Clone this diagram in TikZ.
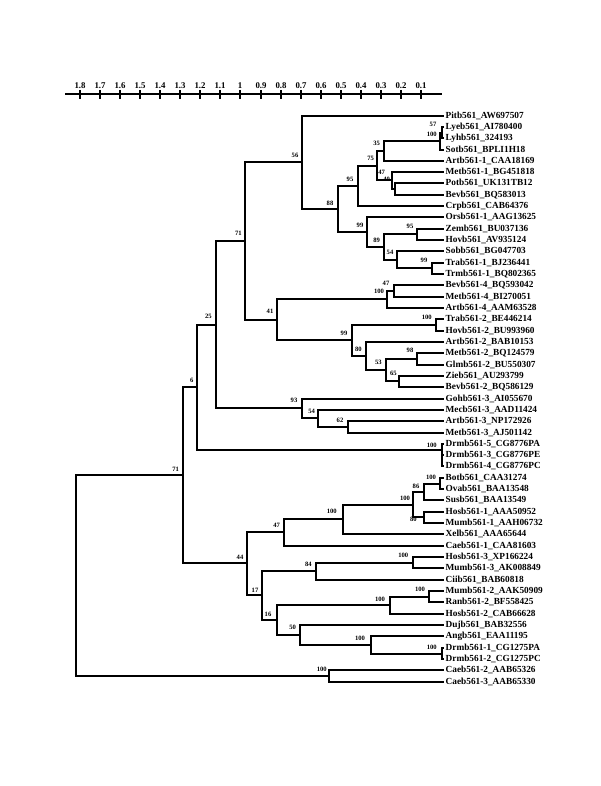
\documentclass[tikz,border=0pt]{standalone}
\usepackage{fontspec}
\setmainfont{Liberation Serif}
\begin{document}
\begin{tikzpicture}[x=1pt,y=-1pt,
  tree/.style={line width=1.8pt, line cap=rect},
  leaf/.style={anchor=west, inner sep=2pt, font=\fontsize{9.3}{10}\selectfont\bfseries},
  bs/.style={inner sep=0pt, font=\fontsize{6.6}{7}\selectfont\bfseries},
  sc/.style={inner sep=0pt, font=\fontsize{8.8}{9}\selectfont\bfseries}]
\useasboundingbox (0,0) rectangle (600,786);
% scale bar
\draw[line width=1.9pt] (65,94) -- (442,94);
\foreach \k/\t in {0/1.8,1/1.7,2/1.6,3/1.5,4/1.4,5/1.3,6/1.2,7/1.1,8/1,9/0.9,10/0.8,11/0.7,12/0.6,13/0.5,14/0.4,15/0.3,16/0.2,17/0.1}{
  \draw[line width=1.6pt] ({round(80+20.06*\k)},90) -- ({round(80+20.06*\k)},99);
  \node[sc] at ({round(80+20.06*\k)},85.5) {\t};
}
% leaves
\def\lx{443.5}
\node[leaf] (l1) at (\lx,116) {Pitb561\_AW697507};
\node[leaf] (l2) at (\lx,127) {Lyeb561\_AI780400};
\node[leaf] (l3) at (\lx,138) {Lyhb561\_324193};
\node[leaf] (l4) at (\lx,150) {Sotb561\_BPLI1H18};
\node[leaf] (l5) at (\lx,161) {Artb561-1\_CAA18169};
\node[leaf] (l6) at (\lx,172) {Metb561-1\_BG451818};
\node[leaf] (l7) at (\lx,183) {Potb561\_UK131TB12};
\node[leaf] (l8) at (\lx,195) {Bevb561\_BQ583013};
\node[leaf] (l9) at (\lx,206) {Crpb561\_CAB64376};
\node[leaf] (l10) at (\lx,217) {Orsb561-1\_AAG13625};
\node[leaf] (l11) at (\lx,229) {Zemb561\_BU037136};
\node[leaf] (l12) at (\lx,240) {Hovb561\_AV935124};
\node[leaf] (l13) at (\lx,251) {Sobb561\_BG047703};
\node[leaf] (l14) at (\lx,263) {Trab561-1\_BJ236441};
\node[leaf] (l15) at (\lx,274) {Trmb561-1\_BQ802365};
\node[leaf] (l16) at (\lx,285) {Bevb561-4\_BQ593042};
\node[leaf] (l17) at (\lx,297) {Metb561-4\_BI270051};
\node[leaf] (l18) at (\lx,308) {Artb561-4\_AAM63528};
\node[leaf] (l19) at (\lx,319) {Trab561-2\_BE446214};
\node[leaf] (l20) at (\lx,331) {Hovb561-2\_BU993960};
\node[leaf] (l21) at (\lx,342) {Artb561-2\_BAB10153};
\node[leaf] (l22) at (\lx,353) {Metb561-2\_BQ124579};
\node[leaf] (l23) at (\lx,365) {Glmb561-2\_BU550307};
\node[leaf] (l24) at (\lx,376) {Zieb561\_AU293799};
\node[leaf] (l25) at (\lx,387) {Bevb561-2\_BQ586129};
\node[leaf] (l26) at (\lx,399) {Gohb561-3\_AI055670};
\node[leaf] (l27) at (\lx,410) {Mecb561-3\_AAD11424};
\node[leaf] (l28) at (\lx,421) {Artb561-3\_NP172926};
\node[leaf] (l29) at (\lx,433) {Metb561-3\_AJ501142};
\node[leaf] (l30) at (\lx,444) {Drmb561-5\_CG8776PA};
\node[leaf] (l31) at (\lx,455) {Drmb561-3\_CG8776PE};
\node[leaf] (l32) at (\lx,466) {Drmb561-4\_CG8776PC};
\node[leaf] (l33) at (\lx,478) {Botb561\_CAA31274};
\node[leaf] (l34) at (\lx,489) {Ovab561\_BAA13548};
\node[leaf] (l35) at (\lx,500) {Susb561\_BAA13549};
\node[leaf] (l36) at (\lx,512) {Hosb561-1\_AAA50952};
\node[leaf] (l37) at (\lx,523) {Mumb561-1\_AAH06732};
\node[leaf] (l38) at (\lx,534) {Xelb561\_AAA65644};
\node[leaf] (l39) at (\lx,546) {Caeb561-1\_CAA81603};
\node[leaf] (l40) at (\lx,557) {Hosb561-3\_XP166224};
\node[leaf] (l41) at (\lx,568) {Mumb561-3\_AK008849};
\node[leaf] (l42) at (\lx,580) {Ciib561\_BAB60818};
\node[leaf] (l43) at (\lx,591) {Mumb561-2\_AAK50909};
\node[leaf] (l44) at (\lx,602) {Ranb561-2\_BF558425};
\node[leaf] (l45) at (\lx,614) {Hosb561-2\_CAB66628};
\node[leaf] (l46) at (\lx,625) {Dujb561\_BAB32556};
\node[leaf] (l47) at (\lx,636) {Angb561\_EAA11195};
\node[leaf] (l48) at (\lx,648) {Drmb561-1\_CG1275PA};
\node[leaf] (l49) at (\lx,659) {Drmb561-2\_CG1275PC};
\node[leaf] (l50) at (\lx,670) {Caeb561-2\_AAB65326};
\node[leaf] (l51) at (\lx,682) {Caeb561-3\_AAB65330};
% internal nodes
\coordinate (n57) at (442,133);
\coordinate (n100a) at (440,141);
\coordinate (n35) at (384,151);
\coordinate (n40) at (395,189);
\coordinate (n47) at (392,180);
\coordinate (n75) at (377,166);
\coordinate (n95) at (358,186);
\coordinate (n95b) at (417,234);
\coordinate (n99b) at (432,268);
\coordinate (n54) at (397,260);
\coordinate (n89) at (384,247);
\coordinate (n99) at (367,232);
\coordinate (n88) at (338,209);
\coordinate (n56) at (302,162);
\coordinate (n47b) at (394,291);
\coordinate (n100b) at (387,299);
\coordinate (n100c) at (436,325);
\coordinate (n98) at (417,359);
\coordinate (n65) at (399,381);
\coordinate (n53) at (386,370);
\coordinate (n80) at (366,356);
\coordinate (n99c) at (352,340);
\coordinate (n41) at (277,320);
\coordinate (n71a) at (245,241);
\coordinate (n62) at (348,427);
\coordinate (n54b) at (318,418);
\coordinate (n93) at (302,408);
\coordinate (n25) at (216,325);
\coordinate (nD5) at (442,450);
\coordinate (n6) at (197,387);
\coordinate (nBO) at (440,484);
\coordinate (n86) at (424,492);
\coordinate (n80b) at (424,517);
\coordinate (n100d) at (413,505);
\coordinate (n100e) at (343,519);
\coordinate (n47c) at (284,532);
\coordinate (nH3) at (413,563);
\coordinate (n84) at (316,571);
\coordinate (nM2) at (429,597);
\coordinate (nR) at (390,605);
\coordinate (nD1) at (442,654);
\coordinate (nA) at (371,645);
\coordinate (n50) at (300,635);
\coordinate (n16) at (277,620);
\coordinate (n17) at (262,595);
\coordinate (n44) at (247,563);
\coordinate (n71b) at (183,475);
\coordinate (nC) at (329,676);
\coordinate (root) at (76,576);
% edges
\begin{scope}[tree]
\draw (n57) |- (l2); \draw (n57) |- (l3);
\draw (n100a) |- (n57); \draw (n100a) |- (l4);
\draw (n35) |- (n100a); \draw (n35) |- (l5);
\draw (n40) |- (l7); \draw (n40) |- (l8);
\draw (n47) |- (l6); \draw (n47) |- (n40);
\draw (n75) |- (n35); \draw (n75) |- (n47);
\draw (n95) |- (n75); \draw (n95) |- (l9);
\draw (n95b) |- (l11); \draw (n95b) |- (l12);
\draw (n99b) |- (l14); \draw (n99b) |- (l15);
\draw (n54) |- (l13); \draw (n54) |- (n99b);
\draw (n89) |- (n95b); \draw (n89) |- (n54);
\draw (n99) |- (l10); \draw (n99) |- (n89);
\draw (n88) |- (n95); \draw (n88) |- (n99);
\draw (n56) |- (l1); \draw (n56) |- (n88);
\draw (n47b) |- (l16); \draw (n47b) |- (l17);
\draw (n100b) |- (n47b); \draw (n100b) |- (l18);
\draw (n100c) |- (l19); \draw (n100c) |- (l20);
\draw (n98) |- (l22); \draw (n98) |- (l23);
\draw (n65) |- (l24); \draw (n65) |- (l25);
\draw (n53) |- (n98); \draw (n53) |- (n65);
\draw (n80) |- (l21); \draw (n80) |- (n53);
\draw (n99c) |- (n100c); \draw (n99c) |- (n80);
\draw (n41) |- (n100b); \draw (n41) |- (n99c);
\draw (n71a) |- (n56); \draw (n71a) |- (n41);
\draw (n62) |- (l28); \draw (n62) |- (l29);
\draw (n54b) |- (l27); \draw (n54b) |- (n62);
\draw (n93) |- (l26); \draw (n93) |- (n54b);
\draw (n25) |- (n71a); \draw (n25) |- (n93);
\draw (nD5) |- (l30); \draw (nD5) |- (l31); \draw (nD5) |- (l32);
\draw (n6) |- (n25); \draw (n6) |- (nD5);
\draw (nBO) |- (l33); \draw (nBO) |- (l34);
\draw (n86) |- (nBO); \draw (n86) |- (l35);
\draw (n80b) |- (l36); \draw (n80b) |- (l37);
\draw (n100d) |- (n86); \draw (n100d) |- (n80b);
\draw (n100e) |- (n100d); \draw (n100e) |- (l38);
\draw (n47c) |- (n100e); \draw (n47c) |- (l39);
\draw (nH3) |- (l40); \draw (nH3) |- (l41);
\draw (n84) |- (nH3); \draw (n84) |- (l42);
\draw (nM2) |- (l43); \draw (nM2) |- (l44);
\draw (nR) |- (nM2); \draw (nR) |- (l45);
\draw (nD1) |- (l48); \draw (nD1) |- (l49);
\draw (nA) |- (l47); \draw (nA) |- (nD1);
\draw (n50) |- (l46); \draw (n50) |- (nA);
\draw (n16) |- (nR); \draw (n16) |- (n50);
\draw (n17) |- (n84); \draw (n17) |- (n16);
\draw (n44) |- (n47c); \draw (n44) |- (n17);
\draw (n71b) |- (n6); \draw (n71b) |- (n44);
\draw (nC) |- (l50); \draw (nC) |- (l51);
\draw (root) |- (n71b); \draw (root) |- (nC);
\end{scope}
% bootstrap values
\node[bs] at (295,155) {56};
\node[bs] at (330,203) {88};
\node[bs] at (350,179) {95};
\node[bs] at (370.7,158) {75};
\node[bs] at (376.7,143) {35};
\node[bs] at (433,124) {57};
\node[bs] at (431.7,134) {100};
\node[bs] at (381.7,172.7) {47};
\node[bs] at (386.7,179) {40};
\node[bs] at (360,225) {99};
\node[bs] at (376.7,240) {89};
\node[bs] at (410,226.7) {95};
\node[bs] at (390,252.7) {54};
\node[bs] at (424,260) {99};
\node[bs] at (386,283.3) {47};
\node[bs] at (379,291.7) {100};
\node[bs] at (238.3,233.3) {71};
\node[bs] at (270,311.7) {41};
\node[bs] at (208.3,316.7) {25};
\node[bs] at (191.7,380.7) {6};
\node[bs] at (175.7,469.3) {71};
\node[bs] at (426.7,317) {100};
\node[bs] at (344,333.3) {99};
\node[bs] at (358.3,349.3) {80};
\node[bs] at (410,350.7) {98};
\node[bs] at (378.3,362.7) {53};
\node[bs] at (393.3,373.3) {65};
\node[bs] at (294,400) {93};
\node[bs] at (311.7,411.7) {54};
\node[bs] at (340,420) {62};
\node[bs] at (431.7,445) {100};
\node[bs] at (431,477.7) {100};
\node[bs] at (416,486) {86};
\node[bs] at (405,498.3) {100};
\node[bs] at (413.3,519.3) {80};
\node[bs] at (331.7,511.7) {100};
\node[bs] at (276.7,525) {47};
\node[bs] at (240,557.3) {44};
\node[bs] at (403.3,555) {100};
\node[bs] at (308.3,564) {84};
\node[bs] at (255,590) {17};
\node[bs] at (420,589.3) {100};
\node[bs] at (380,599.3) {100};
\node[bs] at (268,614) {16};
\node[bs] at (292.7,627.3) {50};
\node[bs] at (360,638.3) {100};
\node[bs] at (431.7,647.3) {100};
\node[bs] at (321.7,669.3) {100};
\end{tikzpicture}
\end{document}
